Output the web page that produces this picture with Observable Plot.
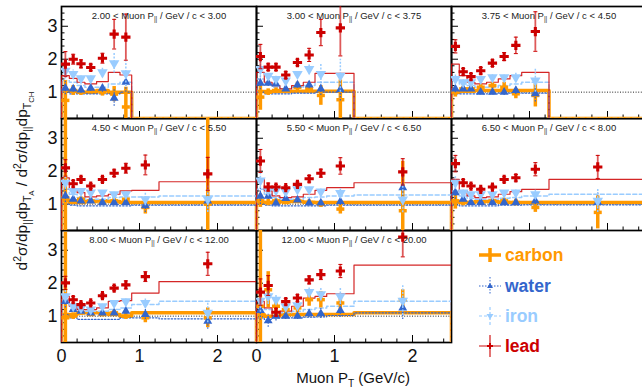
<!DOCTYPE html>
<html><head><meta charset="utf-8">
<script src="https://cdn.jsdelivr.net/npm/d3@7"></script>
<script src="https://cdn.jsdelivr.net/npm/@observablehq/plot@0.6"></script>
<style>
html,body{margin:0;padding:0;overflow:hidden;background:#fff;}
#wrap{position:relative;width:642px;height:392px;overflow:hidden;background:#fff;}
#chart{width:646px;height:392px;}
#legend{position:absolute;left:453px;top:232px;width:189px;height:160px;background:#fff;font:bold 17.5px "Liberation Sans",Arial,sans-serif;}
.li{position:absolute;left:25px;height:22px;line-height:22px;white-space:nowrap;}
.li svg{position:absolute;left:0;top:0;}
.li span{position:absolute;left:27px;top:0;}
</style></head><body>
<div id="wrap"><div id="chart"></div><div id="legend"></div></div>
<script>
// ---------- data ----------
const edges = [0, 0.1, 0.2, 0.3, 0.45, 0.6, 0.75, 0.9, 1.25, 2.5];
const pLow  = ["2.00","3.00","3.75","4.50","5.50","6.50","8.00","12.00"];
const pHigh = ["3.00","3.75","4.50","5.50","6.50","8.00","12.00","20.00"];
const targets = ["carbon","water","iron","lead"];
const colors = {carbon:"#FF9900", water:"#3366CC", iron:"#99CCFF", lead:"#CC0000"};
const unity = 1;
const yMajor = [1, 2, 3];
const yMinor = [0.4,0.6,0.8,1.2,1.4,1.6,1.8,2.2,2.4,2.6,2.8,3.2,3.4];
const xMajor = [0, 1, 2];
const xMinor = [0.2,0.4,0.6,0.8,1.2,1.4,1.6,1.8,2.2,2.4];

const leadVal = [
 [1.85, 2.0, 1.86, 1.75, 2.03, 2.76, 2.67],
 [2.08, 1.76, 1.76, 1.52, 1.9, 2.13, 2.81, 2.95],
 [2.39, 1.62, 1.47, 1.65, 1.88, 2.08, 2.42, 2.84],
 [2.1, 1.62, 1.75, 1.55, 1.75, 1.94, 2.09, 2.19, 1.92],
 [2.31, 1.52, 1.52, 1.5, 1.6, 1.77, 1.94, 2.16, 1.98],
 [2.23, 1.65, 1.55, 1.45, 1.52, 1.75, 1.8, 2.06, 2.13],
 [2.01, 1.5, 1.35, 1.4, 1.62, 1.85, 1.95, 2.2, 2.59],
 [1.73, 1.93, 1.12, 1.44, 1.55, 2.1, 2.26, 2.37, 3.4]
];
const leadErr = [
 [0.38, 0.15, 0.12, 0.1, 0.15, 0.45, 0.7],
 [0.37, 0.1, 0.1, 0.1, 0.1, 0.2, 0.4, 0.85],
 [0.2, 0.1, 0.1, 0.1, 0.1, 0.12, 0.25, 0.6],
 [0.25, 0.1, 0.08, 0.07, 0.08, 0.1, 0.15, 0.3, 0.5],
 [0.35, 0.12, 0.08, 0.06, 0.07, 0.1, 0.12, 0.25, 0.4],
 [0.25, 0.1, 0.07, 0.06, 0.06, 0.08, 0.1, 0.2, 0.35],
 [0.2, 0.1, 0.07, 0.07, 0.07, 0.08, 0.12, 0.15, 0.35],
 [0.4, 0.3, 0.12, 0.1, 0.1, 0.12, 0.15, 0.2, 0.6]
];
const ironVal = [
 [1.65, 1.55, 1.42, 1.42, 1.6, 1.88, 1.57],
 [1.7, 1.5, 1.4, 1.35, 1.55, 1.7, 1.55, 1.5],
 [1.4, 1.3, 1.3, 1.4, 1.45, 1.45, 1.45, 1.35],
 [1.65, 1.4, 1.4, 1.35, 1.35, 1.3, 1.3, 1.15, 1.15],
 [1.72, 1.42, 1.42, 1.38, 1.45, 1.45, 1.38, 1.34, 1.14],
 [1.65, 1.35, 1.3, 1.3, 1.3, 1.35, 1.35, 1.3, 1.1],
 [1.6, 1.3, 1.25, 1.2, 1.3, 1.4, 1.45, 1.4, 1.1],
 [1.47, 1.6, 1.5, 1.29, 1.33, 1.73, 1.66, 1.6, 1.47]
];
const ironErr = [
 [0.25, 0.12, 0.1, 0.1, 0.15, 0.3, 0.4],
 [0.25, 0.1, 0.08, 0.08, 0.1, 0.15, 0.3, 0.5],
 [0.15, 0.08, 0.07, 0.07, 0.08, 0.1, 0.15, 0.35],
 [0.2, 0.08, 0.06, 0.05, 0.05, 0.06, 0.08, 0.2, 0.4],
 [0.25, 0.1, 0.06, 0.05, 0.05, 0.06, 0.08, 0.15, 0.4],
 [0.2, 0.08, 0.06, 0.05, 0.05, 0.06, 0.08, 0.15, 0.35],
 [0.2, 0.08, 0.06, 0.05, 0.06, 0.07, 0.1, 0.15, 0.3],
 [0.35, 0.25, 0.15, 0.12, 0.12, 0.15, 0.2, 0.25, 0.45]
];
const waterVal = [
 [1.12, 1.1, 1.07, 1.12, 1.12, 0.82, 1.3],
 [1.27, 1.27, 1.25, 1.1, 1.22, 1.22, 1.1, 1.08],
 [1.1, 1.1, 1.1, 1.0, 1.0, 1.0, 1.05, 0.95],
 [1.25, 1.15, 1.1, 1.1, 1.05, 1.05, 1.05, 0.95, 1.1],
 [1.24, 1.24, 1.04, 1.17, 1.13, 1.04, 1.04, 1.08, 1.5],
 [1.35, 1.15, 1.05, 1.05, 1.05, 1.05, 1.05, 1.1, 1.05],
 [1.45, 1.2, 1.15, 1.1, 1.1, 1.1, 1.15, 1.05, 0.85],
 [1.17, 0.86, 1.0, 1.0, 1.0, 1.08, 1.08, 1.17, 1.25]
];
const waterErr = [
 [0.2, 0.1, 0.1, 0.1, 0.12, 0.25, 0.3],
 [0.2, 0.1, 0.08, 0.08, 0.1, 0.12, 0.2, 0.35],
 [0.12, 0.08, 0.07, 0.07, 0.08, 0.1, 0.12, 0.25],
 [0.2, 0.08, 0.06, 0.05, 0.05, 0.06, 0.08, 0.2, 0.35],
 [0.25, 0.1, 0.06, 0.05, 0.05, 0.06, 0.08, 0.12, 0.35],
 [0.2, 0.08, 0.06, 0.05, 0.05, 0.06, 0.08, 0.12, 0.3],
 [0.2, 0.08, 0.06, 0.05, 0.06, 0.07, 0.08, 0.15, 0.25],
 [0.3, 0.2, 0.15, 0.1, 0.1, 0.12, 0.15, 0.2, 0.35]
];
const carbonVal = [
 [0.75, 1.05, 1.0, 1.05, 1.0, 0.94, 0.55],
 [0.85, 1.0, 1.05, 1.05, 1.15, 1.1, 0.9, 0.77],
 [1.0, 1.1, 1.1, 1.15, 1.2, 1.15, 0.95, 0.9],
 [1.2, 1.1, 1.15, 1.1, 1.05, 1.1, 1.15, 0.9, 1.0],
 [1.1, 1.05, 1.1, 1.05, 1.1, 1.05, 1.0, 0.85, 0.8],
 [1.1, 1.05, 1.05, 1.05, 1.1, 1.1, 1.05, 0.9, 0.75],
 [0.95, 1.0, 1.1, 1.05, 1.05, 1.1, 1.0, 0.95, 0.95],
 [1.3, 1.8, 1.3, 1.2, 1.25, 1.5, 1.5, 1.4, 1.5]
];
const carbonErr = [
 [0.6, 0.15, 0.1, 0.1, 0.12, 0.23, 0.6],
 [0.4, 0.1, 0.08, 0.08, 0.15, 0.12, 0.3, 0.6],
 [0.15, 0.08, 0.08, 0.08, 0.1, 0.15, 0.15, 0.35],
 [2.6, 0.1, 0.07, 0.06, 0.06, 0.08, 0.1, 0.2, 3.0],
 [0.2, 0.1, 0.06, 0.05, 0.06, 0.08, 0.1, 0.15, 1.5],
 [0.25, 0.1, 0.06, 0.05, 0.06, 0.08, 0.1, 0.15, 0.5],
 [2.6, 0.1, 0.07, 0.06, 0.07, 0.08, 0.1, 0.15, 0.3],
 [2.6, 0.55, 0.2, 0.15, 0.15, 0.2, 0.25, 0.2, 0.3]
];
const leadHist = [
 [1.5, 1.42, 1.3, 1.25, 1.32, 1.6, 1.52],
 [1.6, 1.3, 1.2, 1.1, 1.2, 1.3, 1.57, 1.57],
 [1.85, 1.5, 1.3, 1.25, 1.3, 1.4, 1.5, 1.6],
 [1.8, 1.45, 1.35, 1.22, 1.25, 1.3, 1.4, 1.42, 1.68],
 [1.75, 1.4, 1.25, 1.2, 1.22, 1.3, 1.42, 1.5, 1.65],
 [1.75, 1.4, 1.25, 1.2, 1.22, 1.3, 1.38, 1.45, 1.75],
 [1.6, 1.3, 1.2, 1.2, 1.25, 1.45, 1.47, 1.7, 2.05],
 [1.45, 1.25, 1.0, 1.15, 1.3, 1.55, 1.6, 1.68, 2.55]
];
const ironHist = [
 [1.35, 1.3, 1.2, 1.15, 1.15, 1.25, 1.3],
 [1.4, 1.25, 1.15, 1.1, 1.15, 1.2, 1.3, 1.3],
 [1.35, 1.25, 1.2, 1.15, 1.15, 1.2, 1.25, 1.3],
 [1.45, 1.3, 1.2, 1.15, 1.15, 1.2, 1.22, 1.22, 1.25],
 [1.45, 1.3, 1.2, 1.15, 1.15, 1.2, 1.22, 1.25, 1.28],
 [1.4, 1.25, 1.18, 1.15, 1.15, 1.18, 1.2, 1.25, 1.3],
 [1.5, 1.3, 1.2, 1.15, 1.15, 1.2, 1.25, 1.35, 1.45],
 [1.3, 1.2, 1.1, 1.1, 1.15, 1.2, 1.25, 1.3, 1.45]
];
const waterHist = [
 [1.0, 0.95, 0.95, 0.95, 0.95, 0.95, 1.0],
 [1.0, 0.95, 0.95, 0.95, 0.97, 0.97, 1.0, 1.0],
 [0.95, 0.95, 0.95, 0.95, 0.95, 0.97, 0.97, 0.97],
 [1.0, 0.97, 0.95, 0.95, 0.95, 0.95, 0.95, 0.97, 0.97],
 [1.0, 0.97, 0.95, 0.95, 0.95, 0.95, 0.95, 0.97, 0.97],
 [0.97, 0.95, 0.95, 0.95, 0.95, 0.97, 0.97, 0.98, 0.98],
 [1.05, 0.95, 0.9, 0.9, 0.9, 0.9, 0.95, 0.95, 0.92],
 [0.95, 0.9, 0.95, 0.95, 0.95, 0.97, 0.98, 1.02, 1.1]
];
const carbonHist = [
 [1.05, 1.03, 1.0, 1.0, 1.05, 1.0, 1.0],
 [1.02, 1.02, 1.02, 1.02, 1.03, 1.03, 1.03, 1.03],
 [1.0, 1.03, 1.03, 1.05, 1.05, 1.05, 1.05, 1.05],
 [1.1, 1.05, 1.05, 1.08, 1.1, 1.08, 1.05, 1.05, 1.05],
 [1.05, 1.05, 1.05, 1.08, 1.08, 1.06, 1.05, 1.05, 1.05],
 [1.08, 1.05, 1.05, 1.08, 1.08, 1.06, 1.05, 1.05, 1.05],
 [1.05, 1.05, 1.1, 1.1, 1.1, 1.05, 1.0, 1.1, 1.1],
 [1.05, 1.0, 1.0, 1.05, 1.05, 1.05, 1.05, 1.05, 1.1]
];

// ---------- layout ----------
const W = 646, H = 392, mL = 61, mT = 6, mB = 50, mR = 0;
const fW = (W - mL - mR) / 3, fH = (H - mT - mB) / 3;
const xDom = [0, 2.5], yDom = [0.2, 3.6];
const FONT = '"Liberation Sans", Arial, Helvetica, sans-serif';

const panels = pLow.map((lo, i) => ({i, col: i % 3, row: Math.floor(i / 3),
  title: `${lo} < Muon P|| / GeV / c < ${pHigh[i]}`}));

function points(vals, errs) {
  return panels.flatMap(p => vals[p.i].map((v, k) => ({
    col: p.col, row: p.row, x: (edges[k] + edges[k + 1]) / 2,
    y: v, lo: v - errs[p.i][k], hi: v + errs[p.i][k]})));
}
function hist(name, hv) {
  return panels.flatMap(p => {
    const vals = hv[p.i], n = vals.length;
    const arr = [{x: xDom[0], y: yDom[0]}];
    vals.forEach((v, k) => arr.push({x: edges[k], y: v}));
    arr.push({x: edges[n], y: yDom[0]});
    if (edges[n] < xDom[1]) arr.push({x: xDom[1], y: yDom[0]});
    return arr.map(d => ({...d, col: p.col, row: p.row, key: name + p.i}));
  });
}
const cross = (vals) => panels.flatMap(p => vals.map(v => ({col: p.col, row: p.row, v})));
const hbar = {draw(ctx, size) { const r = Math.sqrt(size / Math.PI); ctx.moveTo(-r, 0); ctx.lineTo(r, 0); }};

const P = {
  carbon: points(carbonVal, carbonErr), water: points(waterVal, waterErr),
  iron: points(ironVal, ironErr), lead: points(leadVal, leadErr)
};
const F = {fx: "col", fy: "row"};

const histStyle = {
  carbon: {strokeWidth: 3.5},
  water: {strokeWidth: 1.2, strokeDasharray: "1.5,1.8"},
  iron: {strokeWidth: 1.5, strokeDasharray: "4,2.5"},
  lead: {strokeWidth: 1.2, strokeOpacity: 0.85}
};
const histData = {carbon: carbonHist, water: waterHist, iron: ironHist, lead: leadHist};

const marks = [
  Plot.frame({stroke: "#000", strokeWidth: 1.7}),
  Plot.ruleY(panels, {...F, y: () => unity, stroke: "#222", strokeDasharray: "1,1.6", strokeWidth: 1}),
  Plot.tickY(cross(yMinor), {...F, y: "v", insetRight: fW - 3.5, stroke: "#000"}),
  Plot.tickY(cross(yMajor), {...F, y: "v", insetRight: fW - 7, stroke: "#000"}),
  Plot.tickX(cross(xMinor), {...F, x: "v", insetTop: fH - 3.5, stroke: "#000"}),
  Plot.tickX(cross(xMajor), {...F, x: "v", insetTop: fH - 7, stroke: "#000"}),
];
for (const t of targets) {
  marks.push(Plot.line(hist(t, histData[t]), {...F, x: "x", y: "y", z: "key", curve: "step-after",
    stroke: colors[t], clip: true, ...histStyle[t]}));
}
// carbon points
marks.push(Plot.ruleX(P.carbon, {...F, x: "x", y1: "lo", y2: "hi", stroke: colors.carbon, strokeWidth: 3.5, clip: true}));
marks.push(Plot.dot(P.carbon, {...F, x: "x", y: "y", symbol: hbar, r: 4, stroke: colors.carbon, strokeWidth: 3.5, fill: "none", clip: true}));
// water
marks.push(Plot.ruleX(P.water, {...F, x: "x", y1: "lo", y2: "hi", stroke: colors.water, strokeWidth: 1.2, strokeDasharray: "1.5,1.5", clip: true}));
marks.push(Plot.dot(P.water, {...F, x: "x", y: "y", symbol: "triangle", r: 3.3, fill: colors.water, stroke: "none", clip: true}));
// iron
marks.push(Plot.ruleX(P.iron, {...F, x: "x", y1: "lo", y2: "hi", stroke: colors.iron, strokeWidth: 1.5, strokeDasharray: "2,1.5", clip: true}));
marks.push(Plot.dot(P.iron, {...F, x: "x", y: "y", symbol: "triangle", rotate: 180, r: 3.9, fill: colors.iron, stroke: "none", clip: true}));
// lead
marks.push(Plot.ruleX(P.lead, {...F, x: "x", y1: "lo", y2: "hi", stroke: colors.lead, strokeOpacity: 0.65, strokeWidth: 1.8, clip: true}));
marks.push(Plot.dot(P.lead, {...F, x: "x", y: "lo", symbol: hbar, r: 2, stroke: colors.lead, strokeWidth: 1, clip: true}));
marks.push(Plot.dot(P.lead, {...F, x: "x", y: "hi", symbol: hbar, r: 2, stroke: colors.lead, strokeWidth: 1, clip: true}));
marks.push(Plot.dot(P.lead, {...F, x: "x", y: "y", symbol: "cross", r: 3.9, fill: colors.lead, stroke: "none", clip: true}));
// panel titles
marks.push(Plot.text(panels, {...F, text: "title", frameAnchor: "top", dy: 9, lineAnchor: "middle", fontSize: 9.5, fill: "#222"}));
// y tick labels (left column)
marks.push(Plot.text([0, 1, 2].flatMap(row => yMajor.map(v => ({row, col: 0, v}))),
  {...F, y: "v", text: d => String(d.v), frameAnchor: "left", dx: -4, textAnchor: "end", fontSize: 18, fill: "#111"}));
// x tick labels (bottom row, columns 0 and 1)
marks.push(Plot.text([0, 1].flatMap(col => xMajor.map(v => ({row: 2, col, v}))),
  {...F, x: "v", text: d => String(d.v), frameAnchor: "bottom", dy: 14, lineAnchor: "middle", fontSize: 18, fill: "#111"}));

const svgNode = Plot.plot({
  width: W, height: H, marginLeft: mL, marginTop: mT, marginBottom: mB, marginRight: mR,
  style: {fontFamily: FONT, background: "#fff", maxWidth: "none", overflow: "visible"},
  fx: {domain: [0, 1, 2], padding: 0, axis: null},
  fy: {domain: [0, 1, 2], padding: 0, axis: null},
  x: {domain: xDom, axis: null},
  y: {domain: yDom, axis: null},
  marks
});
document.getElementById("chart").appendChild(svgNode);

// ---------- rich text helpers ----------
function rich(textEl, parts, base) {
  const lv = {n: [0, base], sup: [-base * 0.4, base * 0.68], sub: [base * 0.28, base * 0.68], ss: [base * 0.48, base * 0.5]};
  let cur = 0;
  textEl.text("");
  for (const [s, kind] of parts) {
    const [off, fs] = lv[kind];
    textEl.append("tspan").attr("dy", off - cur).attr("font-size", fs).text(s);
    cur = off;
  }
}
const svg = d3.select(svgNode);
svg.selectAll("text").filter(function () { return this.textContent.includes("P||"); }).each(function () {
  const t = this.textContent; const [a, b] = t.split("P||");
  rich(d3.select(this), [[a + "P", "n"], ["||", "sub"], [b, "n"]], 9.5);
});
const xt = svg.append("text").attr("x", 410).attr("y", 383).attr("text-anchor", "end")
  .attr("font-family", FONT).attr("font-size", 15).attr("fill", "#111");
rich(xt, [["Muon P", "n"], ["T", "sub"], [" (GeV/c)", "n"]], 15);
const yt = svg.append("text").attr("transform", "translate(27,181) rotate(-90)").attr("text-anchor", "middle")
  .attr("font-family", FONT).attr("font-size", 15.5).attr("fill", "#111");
rich(yt, [["d", "n"], ["2", "sup"], ["σ/dp", "n"], ["||", "sub"], ["dp", "n"], ["T", "sub"], ["A", "ss"],
  [" / d", "n"], ["2", "sup"], ["σ/dp", "n"], ["||", "sub"], ["dp", "n"], ["T", "sub"], ["CH", "ss"]], 15.5);

// ---------- legend ----------
const legendSym = {
  carbon: `<line x1="1" x2="23" y1="11" y2="11" stroke="${colors.carbon}" stroke-width="3.5"/><line x1="12" x2="12" y1="4" y2="18" stroke="${colors.carbon}" stroke-width="3.5"/>`,
  water: `<line x1="1" x2="23" y1="11" y2="11" stroke="${colors.water}" stroke-width="1" stroke-dasharray="1.5,1.5"/><line x1="12" x2="12" y1="2" y2="20" stroke="${colors.water}" stroke-width="1" stroke-dasharray="1.5,1.5"/><path d="M12,8 L15,13 L9,13 Z" fill="${colors.water}"/>`,
  iron: `<line x1="1" x2="23" y1="11" y2="11" stroke="${colors.iron}" stroke-width="1.2" stroke-dasharray="3,2"/><line x1="12" x2="12" y1="2" y2="20" stroke="${colors.iron}" stroke-width="1.2" stroke-dasharray="3,2"/><path d="M8.5,9 L15.5,9 L12,14.5 Z" fill="${colors.iron}"/>`,
  lead: `<line x1="1" x2="23" y1="11" y2="11" stroke="${colors.lead}" stroke-width="1.2" stroke-opacity="0.8"/><line x1="12" x2="12" y1="0" y2="22" stroke="${colors.lead}" stroke-width="2" stroke-opacity="0.55"/><path d="M11,8 h2 v2 h2 v2 h-2 v2 h-2 v-2 h-2 v-2 h2 Z" fill="${colors.lead}"/>`
};
const legendTop = [12, 42.5, 72.5, 102.5];
const leg = document.getElementById("legend");
targets.forEach((t, i) => {
  const d = document.createElement("div");
  d.className = "li"; d.style.top = legendTop[i] + "px";
  d.innerHTML = `<svg width="24" height="22">${legendSym[t]}</svg><span style="color:${colors[t]}">${t}</span>`;
  leg.appendChild(d);
});
</script>
</body></html>
